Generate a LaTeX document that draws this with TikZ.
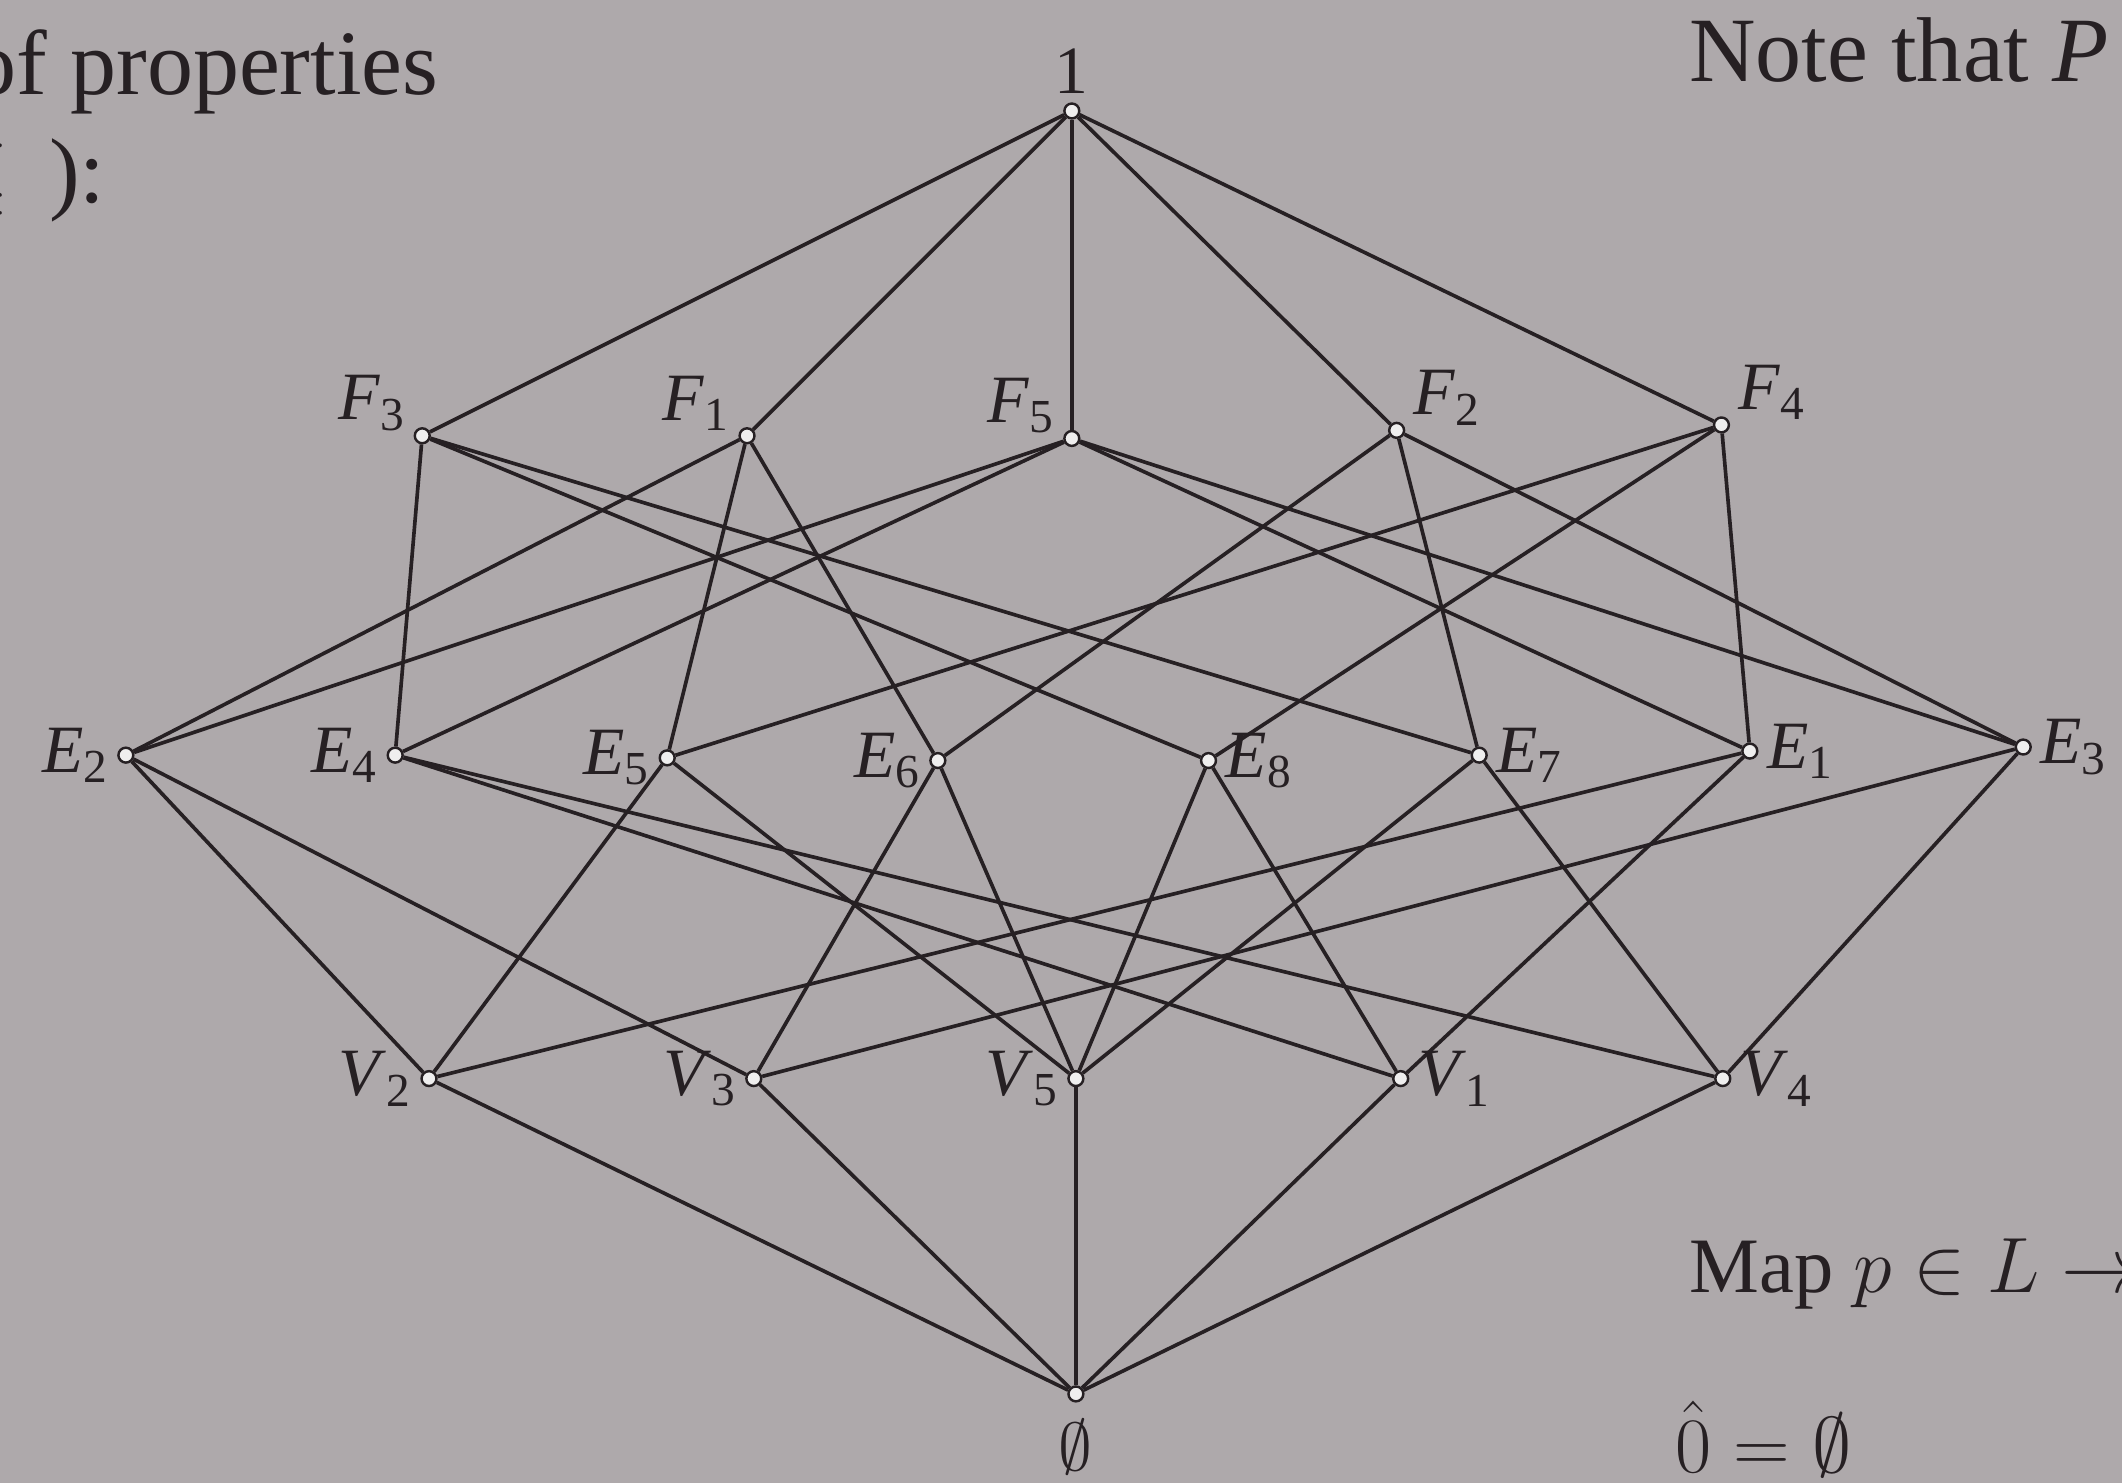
\documentclass[tikz,border=0pt]{standalone}
\usepackage{fix-cm}
\usepackage{fontspec}
\setmainfont{Liberation Serif}
\definecolor{paper}{RGB}{174,169,171}
\definecolor{ink}{RGB}{38,32,35}
\newcommand{\lbl}[2]{\textit{#1}\textsubscript{#2}}
\begin{document}
\begin{tikzpicture}[x=0.5pt,y=-0.5pt,
  vert/.style={circle, draw=ink, fill=white!80!paper, line width=0.9pt, inner sep=0pt, minimum size=5.5pt},
  conn/.style={draw=ink, line width=1.35pt},
  lab/.style={text=ink, font=\fontsize{25}{28}\selectfont, inner sep=1pt, label distance=2pt},
  pagetext/.style={text=ink, font=\fontsize{34}{38}\selectfont, anchor=base west, inner sep=0pt},
  smalltext/.style={pagetext, font=\fontsize{29}{32}\selectfont}]
\fill[paper] (0,0) rectangle (1568,1096);
\clip (0,0) rectangle (1568,1096);

% page text around the figure
\node[pagetext] (t1) at (-22,70) {of properties};
\node[pagetext, anchor=base east] (t2) at (8,150) {$\leq$};
\node[pagetext] (t3) at (36,150) {):};
\node[pagetext] (t4) at (1248,60) {Note that \textit{P}};
\node[smalltext] (t5) at (1248,955) {Map $p\in L\rightarrow$};
\node[smalltext] (t6) at (1238,1088) {$\hat{0}=\emptyset$};

% nodes
\node[vert, label={[lab]above:1}] (top) at (792,82) {};
\node[vert, label={[lab]172:\lbl{F}{3}}] (F3) at (312,322) {};
\node[vert, label={[lab]172:\lbl{F}{1}}] (F1) at (552,322) {};
\node[vert, label={[lab]172:\lbl{F}{5}}] (F5) at (792,324) {};
\node[vert, label={[lab]8:\lbl{F}{2}}] (F2) at (1032,318) {};
\node[vert, label={[lab]8:\lbl{F}{4}}] (F4) at (1272,314) {};

\node[vert, label={[lab]left:\lbl{E}{2}}] (E2) at (93,558) {};
\node[vert, label={[lab]left:\lbl{E}{4}}] (E4) at (292,558) {};
\node[vert, label={[lab]left:\lbl{E}{5}}] (E5) at (493,560) {};
\node[vert, label={[lab]left:\lbl{E}{6}}] (E6) at (693,562) {};
\node[vert, label={[lab]right:\lbl{E}{8}}] (E8) at (893,562) {};
\node[vert, label={[lab]right:\lbl{E}{7}}] (E7) at (1093,558) {};
\node[vert, label={[lab]right:\lbl{E}{1}}] (E1) at (1293,555) {};
\node[vert, label={[lab]right:\lbl{E}{3}}] (E3) at (1495,552) {};

\node[vert, label={[lab]181:\lbl{V}{2}}] (V2) at (317,797) {};
\node[vert, label={[lab]181:\lbl{V}{3}}] (V3) at (557,797) {};
\node[vert, label={[lab]181:\lbl{V}{5}}] (V5) at (795,797) {};
\node[vert, label={[lab]359:\lbl{V}{1}}] (V1) at (1035,797) {};
\node[vert, label={[lab]359:\lbl{V}{4}}] (V4) at (1273,797) {};

\node[vert, label={[lab,label distance=5pt]below:$\emptyset$}] (bot) at (795,1030) {};

% connectors
\foreach \f in {F1,F2,F3,F4,F5} \draw[conn] (top) -- (\f);
\foreach \e in {E2,E5,E6} \draw[conn] (F1) -- (\e);
\foreach \e in {E3,E6,E7} \draw[conn] (F2) -- (\e);
\foreach \e in {E4,E7,E8} \draw[conn] (F3) -- (\e);
\foreach \e in {E1,E5,E8} \draw[conn] (F4) -- (\e);
\foreach \e in {E1,E2,E3,E4} \draw[conn] (F5) -- (\e);
\foreach \v in {V1,V2} \draw[conn] (E1) -- (\v);
\foreach \v in {V2,V3} \draw[conn] (E2) -- (\v);
\foreach \v in {V3,V4} \draw[conn] (E3) -- (\v);
\foreach \v in {V4,V1} \draw[conn] (E4) -- (\v);
\foreach \v in {V2,V5} \draw[conn] (E5) -- (\v);
\foreach \v in {V3,V5} \draw[conn] (E6) -- (\v);
\foreach \v in {V4,V5} \draw[conn] (E7) -- (\v);
\foreach \v in {V1,V5} \draw[conn] (E8) -- (\v);
\foreach \v in {V1,V2,V3,V4,V5} \draw[conn] (bot) -- (\v);
\end{tikzpicture}
\end{document}
